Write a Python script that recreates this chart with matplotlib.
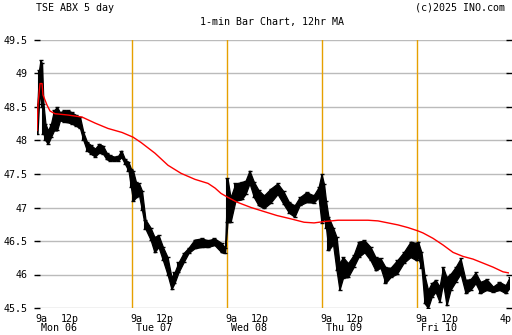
import matplotlib
matplotlib.use("Agg")
import matplotlib.pyplot as plt

# chart values (x = trading day index, 0 = Mon 9a)
days = ["Mon 06", "Tue 07", "Wed 08", "Thu 09", "Fri 10"]
yticks = [45.5, 46, 46.5, 47, 47.5, 48, 48.5, 49, 49.5]
ytick_labels = ["45.5", "46", "46.5", "47", "47.5", "48", "48.5", "49", "49.5"]

bar_t = [0.005, 0.021, 0.037, 0.053, 0.068, 0.089, 0.116, 0.147, 0.179, 0.211,
         0.242, 0.284, 0.326, 0.368, 0.411, 0.453, 0.489, 0.526, 0.568, 0.611,
         0.653, 0.695, 0.732, 0.768, 0.811, 0.853, 0.889, 0.926, 0.963, 0.989,
         1.011, 1.042, 1.074, 1.105, 1.142, 1.195, 1.237, 1.279, 1.326, 1.374,
         1.416, 1.447, 1.489, 1.542, 1.595, 1.658, 1.732, 1.800, 1.868, 1.942, 1.979,
         2.005, 2.037, 2.089, 2.153, 2.195, 2.237, 2.284, 2.332, 2.389, 2.458,
         2.532, 2.595, 2.653, 2.711, 2.763, 2.837, 2.911, 2.963, 2.995,
         3.021, 3.042, 3.068, 3.116, 3.153, 3.184, 3.221, 3.274, 3.332, 3.384,
         3.447, 3.511, 3.563, 3.616, 3.668, 3.721, 3.789, 3.858, 3.932, 3.995,
         4.011, 4.047, 4.079, 4.116, 4.153, 4.195, 4.237, 4.274, 4.311, 4.353,
         4.405, 4.458, 4.511, 4.563, 4.616, 4.668, 4.732, 4.800, 4.868, 4.932, 4.974]
bar_low = [48.10, 48.55, 48.70, 48.50, 48.10, 48.00, 47.95, 48.05, 48.15, 48.15,
           48.30, 48.28, 48.27, 48.25, 48.22, 48.18, 48.00, 47.85, 47.80, 47.76,
           47.82, 47.80, 47.72, 47.70, 47.70, 47.70, 47.75, 47.65, 47.55, 47.30,
           47.10, 47.15, 47.18, 46.96, 46.68, 46.52, 46.33, 46.41, 46.21, 46.00,
           45.78, 45.87, 46.03, 46.18, 46.32, 46.39, 46.41, 46.41, 46.44, 46.33, 46.32,
           46.78, 46.78, 47.10, 47.12, 47.20, 47.36, 47.15, 47.03, 46.99, 47.07,
           47.20, 47.05, 46.92, 46.86, 47.03, 47.08, 47.07, 47.15, 46.77,
           46.85, 46.70, 46.36, 46.45, 46.06, 45.77, 45.95, 45.96, 46.11, 46.26,
           46.33, 46.21, 46.06, 46.10, 45.87, 45.96, 46.01, 46.17, 46.26, 46.21,
           46.26, 46.10, 45.57, 45.50, 45.66, 45.74, 45.59, 45.87, 45.54, 45.77,
           45.89, 46.01, 45.72, 45.77, 45.87, 45.72, 45.77, 45.74, 45.77, 45.72, 45.80]
bar_high = [48.55, 49.05, 49.20, 49.15, 48.55, 48.25, 48.15, 48.25, 48.45, 48.50,
            48.42, 48.45, 48.45, 48.42, 48.38, 48.35, 48.12, 47.98, 47.93, 47.88,
            47.95, 47.92, 47.82, 47.78, 47.76, 47.77, 47.85, 47.72, 47.68, 47.58,
            47.55, 47.38, 47.36, 47.25, 46.82, 46.70, 46.56, 46.59, 46.41, 46.26,
            45.96, 46.03, 46.18, 46.32, 46.40, 46.52, 46.54, 46.51, 46.54, 46.47, 46.40,
            47.44, 47.15, 47.36, 47.38, 47.40, 47.55, 47.38, 47.26, 47.18, 47.28,
            47.36, 47.24, 47.08, 47.03, 47.15, 47.23, 47.18, 47.30, 47.50,
            47.35, 47.10, 46.86, 46.70, 46.56, 46.17, 46.26, 46.17, 46.29, 46.49,
            46.51, 46.41, 46.26, 46.24, 46.11, 46.10, 46.21, 46.33, 46.49, 46.47,
            46.49, 46.33, 45.99, 45.77, 45.87, 45.92, 45.82, 46.11, 45.96, 46.01,
            46.11, 46.24, 45.92, 45.93, 46.03, 45.89, 45.93, 45.82, 45.89, 45.84, 45.96]

ma_t = [0.0, 0.011, 0.032, 0.053, 0.063, 0.105, 0.137, 0.189, 0.326, 0.474,
        0.611, 0.747, 0.895, 1.011, 1.095, 1.242, 1.379, 1.516, 1.663, 1.800,
        1.874, 1.937, 2.011, 2.105, 2.253, 2.389, 2.526, 2.674, 2.811, 2.916,
        3.021, 3.168, 3.484, 3.589, 3.695, 3.800, 3.905, 4.011, 4.063, 4.168,
        4.274, 4.379, 4.484, 4.589, 4.695, 4.800, 4.905, 4.979]
ma_val = [48.15, 48.55, 48.85, 48.85, 48.68, 48.53, 48.44, 48.40, 48.38, 48.35,
          48.26, 48.18, 48.12, 48.05, 47.97, 47.81, 47.63, 47.51, 47.42, 47.36,
          47.29, 47.21, 47.15, 47.08, 47.00, 46.94, 46.88, 46.83, 46.78, 46.77,
          46.79, 46.81, 46.81, 46.80, 46.77, 46.74, 46.70, 46.65, 46.62, 46.54,
          46.44, 46.33, 46.27, 46.23, 46.17, 46.11, 46.04, 46.02]

mono = "DejaVu Sans Mono"
fig = plt.figure(figsize=(5.12, 3.35), dpi=100)
ax = fig.add_axes([37 / 512, 27 / 335, 472 / 512, 268 / 335])
ax.set_xlim(0, 4.968)
ax.set_ylim(45.5, 49.5)

for y in yticks:
    ax.axhline(y, color="#bbbbbb", lw=1, zorder=0)
for d in range(1, 5):
    ax.axvline(d, color="#e6a000", lw=1, zorder=1)

ax.fill_between(bar_t, bar_low, bar_high, color="black", lw=0.9, zorder=2)
ax.vlines(bar_t, bar_low, bar_high, color="black", lw=1.5, zorder=2)
ax.plot(bar_t, bar_low, ls="none", marker="_", ms=3, mew=1, color="black", zorder=2)
ax.plot(bar_t, bar_high, ls="none", marker="_", ms=3, mew=1, color="black", zorder=2)
ax.plot(ma_t, ma_val, color="red", lw=1, zorder=3)

for s in ax.spines.values():
    s.set_visible(False)
ax.set_xticks([])
ax.set_yticks(yticks)
ax.set_yticklabels(ytick_labels, fontfamily=mono, fontsize=7.2)
ax.tick_params(axis="y", left=True, right=True, direction="inout", length=5,
               width=1, pad=4)

for i, name in enumerate(days):
    ax.annotate("9a", (i, 0), xycoords=("data", "axes fraction"),
                xytext=(-1, -8), textcoords="offset points", ha="left",
                va="center", fontfamily=mono, fontsize=7.2)
    ax.annotate("12p", (i + 0.347, 0), xycoords=("data", "axes fraction"),
                xytext=(0, -8), textcoords="offset points", ha="center",
                va="center", fontfamily=mono, fontsize=7.2)
    ax.annotate(name, (i + 0.232, 0), xycoords=("data", "axes fraction"),
                xytext=(0, -14.5), textcoords="offset points", ha="center",
                va="center", fontfamily=mono, fontsize=7.2)
ax.annotate("4p", (4.968, 0), xycoords=("data", "axes fraction"),
            xytext=(2, -8), textcoords="offset points", ha="right",
            va="center", fontfamily=mono, fontsize=7.2, annotation_clip=False)

fig.text(36 / 512, 1 - 8 / 335, "TSE ABX 5 day", ha="left", va="center",
         fontfamily=mono, fontsize=7.2)
fig.text(505 / 512, 1 - 8 / 335, "(c)2025 INO.com", ha="right", va="center",
         fontfamily=mono, fontsize=7.2)
fig.text(272 / 512, 1 - 22 / 335, "1-min Bar Chart, 12hr MA", ha="center",
         va="center", fontfamily=mono, fontsize=7.2)

fig.savefig("out.png", dpi=100)
